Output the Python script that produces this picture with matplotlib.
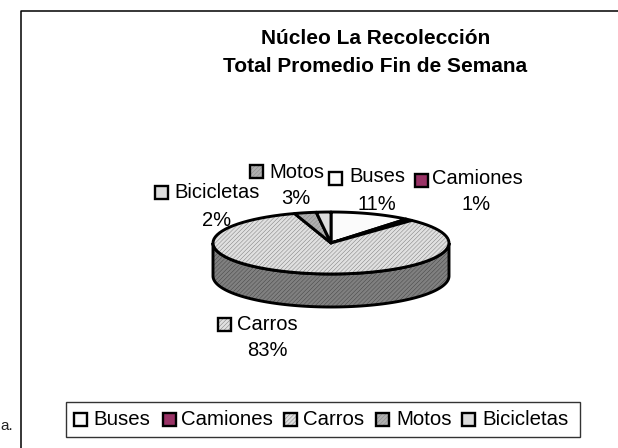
import numpy as np
import matplotlib
matplotlib.use('Agg')
import matplotlib.pyplot as plt
from matplotlib.patches import Rectangle, Polygon

plt.rcParams['font.family'] = ['Liberation Sans', 'DejaVu Sans']
plt.rcParams['hatch.linewidth'] = 0.3

categories = ['Buses', 'Camiones', 'Carros', 'Motos', 'Bicicletas']
values = [11, 1, 83, 3, 2]
colors = ['#fbfbfb', '#993366', '#e0e0e0', '#b0b0b0', '#dcdcdc']
hatch_colors = ['#e0e0e0', '#993366', '#6e6e6e', '#808080', '#c8c8c8']
hatches = ['', '', '////////', '////////', '']
title_lines = ['Núcleo La Recolección', 'Total Promedio Fin de Semana']

W, H = 618, 448
fig = plt.figure(figsize=(W / 100, H / 100), dpi=100, facecolor='white')
# full figure axes in pixel units, y pointing down
ax = fig.add_axes([0, 0, 1, 1])
ax.set_xlim(0, W)
ax.set_ylim(H, 0)
ax.axis('off')

# chart frame
ax.plot([20.5, 20.5, W], [H, 11.5, 11.5], color='black', lw=1.1, solid_capstyle='butt')
ax.text(0, 430, 'a.', fontsize=11, ha='left', va='baseline', color='#222222')

ax.text(375.5, 38, title_lines[0], fontsize=15, fontweight='bold', ha='center', va='center')
ax.text(375, 67, title_lines[1], fontsize=15, fontweight='bold', ha='center', va='center')

# pie geometry
cx, cy, rx, ry, depth = 331, 243, 118, 31, 33
line_w = 2.1

# side of the cylinder
t = np.linspace(0, np.pi, 200)
xs = cx + rx * np.cos(t)
ys = cy + ry * np.sin(t)
side = np.r_[np.c_[xs, ys], np.c_[xs[::-1], ys[::-1] + depth]]
ax.add_patch(Polygon(side, closed=True, facecolor='#808080', edgecolor='#3c3c3c', lw=0,
                     hatch='////////', zorder=2))
ax.add_patch(Polygon(side, closed=True, fill=False, edgecolor='black', lw=line_w, zorder=2))

# top of the pie, drawn from the values going clockwise from 12 o'clock
fractions = np.array(values) / sum(values)
edges = np.r_[0, np.cumsum(fractions)] * 2 * np.pi
for i in range(len(values)):
    a = np.linspace(edges[i], edges[i + 1], 80)
    px = cx + rx * np.sin(a)
    py = cy - ry * np.cos(a)
    pts = np.r_[[[cx, cy]], np.c_[px, py]]
    ax.add_patch(Polygon(pts, closed=True, facecolor=colors[i], edgecolor=hatch_colors[i], lw=0,
                         hatch=hatches[i], zorder=3))
    ax.add_patch(Polygon(pts, closed=True, fill=False, edgecolor='black', lw=line_w,
                         joinstyle='round', zorder=3))


def swatch(x, y, i, size=13):
    # x, y is the outer top left corner of the black border
    ax.add_patch(Rectangle((x + 1, y + 1), size, size, facecolor=colors[i], edgecolor=hatch_colors[i],
                           lw=0, hatch=hatches[i], zorder=5))
    ax.add_patch(Rectangle((x + 1, y + 1), size, size, fill=False, edgecolor='black', lw=1.7, zorder=5))


# data labels: swatch x, swatch y, name x, name y, percent x, percent y
label_pos = {
    0: (328, 171, 349, 177, 377, 205),
    1: (414, 173, 432, 179, 476, 205),
    2: (217, 317, 237, 324, 267, 351),
    3: (249, 164, 269, 172, 296, 199),
    4: (154, 185, 174, 192, 217, 220),
}
for i, (sx, sy, nx, ny, px, py) in label_pos.items():
    swatch(sx, sy, i)
    ax.text(nx, ny, categories[i], fontsize=14.5, ha='left', va='center', zorder=6)
    ax.text(px, py, f'{values[i]}%', fontsize=14.5, ha='center', va='center', zorder=6)

# legend
ax.add_patch(Rectangle((65.5, 402.5), 514, 35, facecolor='white', edgecolor='#333333', lw=1, zorder=4))
legend_swatch_x = [73, 162, 283, 375, 461]
legend_text_x = [93, 181, 303, 396, 482]
for i in range(len(categories)):
    swatch(legend_swatch_x[i], 412, i)
    ax.text(legend_text_x[i], 419.5, categories[i], fontsize=14.7, ha='left', va='center', zorder=6)

fig.savefig('out.png', dpi=100)
